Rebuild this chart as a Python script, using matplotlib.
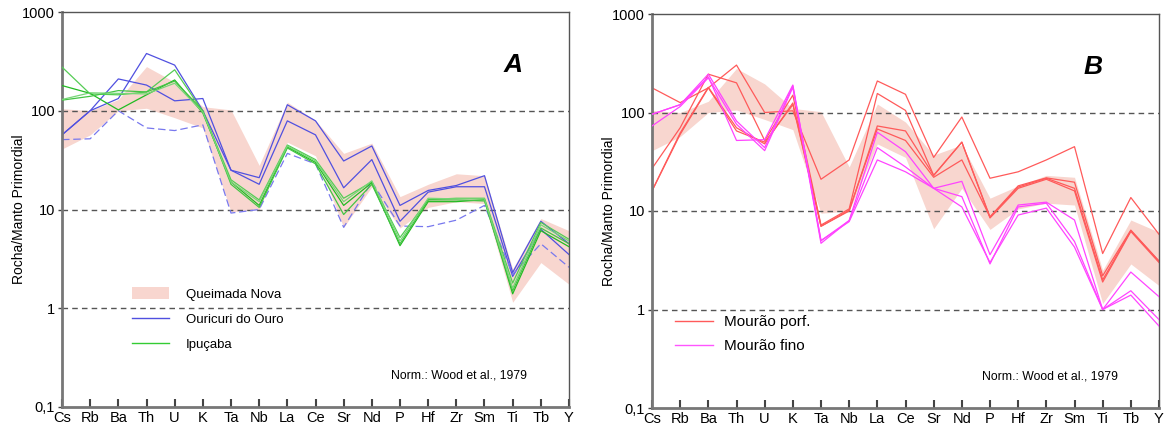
import numpy as np
from matplotlib import pyplot as plt
from matplotlib.patches import Patch
from matplotlib.lines import Line2D

plt.rcParams['font.family'] = ['Liberation Sans', 'DejaVu Sans']

elements = ['Cs', 'Rb', 'Ba', 'Th', 'U', 'K', 'Ta', 'Nb', 'La', 'Ce',
            'Sr', 'Nd', 'P', 'Hf', 'Zr', 'Sm', 'Ti', 'Tb', 'Y']

# Queimada Nova envelope (same field in both panels)
qn_low = [41, 57, 100, 106, 85, 67, 9.5, 10, 48, 35, 6.6, 17, 6.5, 10.5, 12, 11.5, 1.15, 2.9, 1.75]
qn_high = [105, 100, 130, 280, 195, 110, 102, 28, 122, 80, 37, 47, 13.5, 18, 23, 22, 2.5, 8.1, 6.1]

# Ouricuri do Ouro
ouricuri_1 = [57, 100, 133, 380, 290, 100, 25, 18, 79, 57, 16.6, 32, 7.6, 15, 17, 17, 2.1, 6.3, 3.5]
ouricuri_2 = [57, 100, 210, 182, 126, 133, 25, 21, 115, 79, 31, 44, 11, 15.6, 17.5, 22, 2.3, 7.6, 4.5]
ouricuri_3 = [51, 52, 100, 67, 63, 72, 9.2, 10, 37, 29, 6.6, 19, 6.8, 6.7, 7.8, 11, 2.2, 4.5, 2.6]

# Ipuçaba
ipucaba_1 = [277, 148, 145, 155, 260, 98, 20, 12.5, 45, 32, 13, 19, 5.2, 12.6, 13, 13, 1.8, 7.4, 5.0]
ipucaba_2 = [180, 150, 102, 145, 205, 95, 19, 11, 43, 30, 11, 18.7, 4.3, 12, 12, 12.6, 1.4, 6.1, 4.2]
ipucaba_3 = [128, 140, 160, 155, 200, 100, 18, 10.5, 42, 29, 8.9, 18, 4.5, 12.5, 12.5, 12.2, 1.5, 6.5, 4.5]
ipucaba_4 = [130, 152, 150, 148, 190, 97, 19, 12, 44, 31, 12, 19.5, 4.8, 13, 12.8, 12.8, 1.6, 7.0, 4.8]

# Mourão porf.
porf_1 = [178, 126, 178, 303, 100, 104, 21, 33, 209, 153, 35, 90, 21.5, 25, 33, 45, 3.7, 13.7, 5.8]
porf_2 = [27, 70, 245, 200, 52, 150, 7.2, 10.5, 156, 105, 23, 50, 8.7, 18, 21.7, 19.6, 2.2, 6.4, 3.1]
porf_3 = [16, 60, 178, 65, 50, 120, 7.0, 10, 73, 65, 23, 50, 8.5, 17, 21, 16, 1.9, 6.2, 3.0]
porf_4 = [16, 62, 180, 70, 48, 125, 7.0, 10.2, 68, 52, 22, 33, 8.7, 17.5, 21.5, 17, 2.0, 6.3, 3.1]

# Mourão fino
fino_1 = [96, 120, 245, 82, 44, 186, 5.0, 8.0, 63, 40, 17, 20, 3.6, 11.5, 12.3, 8.1, 1.0, 2.4, 1.35]
fino_2 = [73, 115, 225, 76, 41, 180, 4.7, 8.0, 44, 28, 17, 14, 2.9, 11, 12, 4.9, 1.0, 1.55, 0.79]
fino_3 = [96, 120, 230, 52, 53, 190, 5.0, 7.8, 33, 25, 17, 11, 3.0, 9.1, 10.7, 4.3, 1.0, 1.4, 0.68]

ytick_vals = [0.1, 1, 10, 100, 1000]
ytick_labels = ['0,1', '1', '10', '100', '1000']

band_color = '#f8d6cf'
x = np.arange(len(elements))


def style_axes(ax):
    ax.set_yscale('log')
    ax.set_ylim(0.1, 1000)
    ax.set_xlim(0, len(elements) - 1)
    ax.set_yticks(ytick_vals)
    ax.set_yticklabels(ytick_labels)
    ax.minorticks_off()
    ax.set_xticks(x)
    ax.set_xticklabels(elements)
    ax.tick_params(axis='x', direction='in', length=6, width=1.5, color='#444444',
                   labelsize=10.5, pad=3)
    ax.tick_params(axis='y', direction='out', length=3, width=1, color='#444444',
                   labelsize=10.5, pad=2)
    for v in [1, 10, 100]:
        ax.axhline(v, color='#555555', lw=1, ls=(0, (4, 3)), zorder=1)
    for side in ['left', 'bottom']:
        ax.spines[side].set_color('#777777')
        ax.spines[side].set_linewidth(2)
    for side in ['top', 'right']:
        ax.spines[side].set_color('#555555')
        ax.spines[side].set_linewidth(1)
    ax.set_ylabel('Rocha/Manto Primordial', fontsize=10, labelpad=-3)


fig = plt.figure(figsize=(11.65, 4.28), dpi=100)
ax1 = fig.add_axes([62 / 1165, 21 / 428, 507 / 1165, 395 / 428])
ax2 = fig.add_axes([652 / 1165, 20 / 428, 507 / 1165, 394 / 428])

# panel A
ax1.fill_between(x, qn_low, qn_high, color=band_color, lw=0, zorder=0)
for s in [ouricuri_1, ouricuri_2]:
    ax1.plot(x, s, color='#5050e0', lw=0.9, zorder=2)
ax1.plot(x, ouricuri_3, color='#7878ee', lw=0.9, ls=(0, (6, 3)), zorder=2)
for s, c in zip([ipucaba_1, ipucaba_2, ipucaba_3, ipucaba_4],
                ['#55cc55', '#22bb22', '#44c444', '#77d677']):
    ax1.plot(x, s, color=c, lw=0.9, zorder=3)
style_axes(ax1)
ax1.text(0.89, 0.865, 'A', transform=ax1.transAxes, fontsize=19,
         fontweight='bold', fontstyle='italic', ha='center', va='center')
ax1.text(0.783, 0.081, 'Norm.: Wood et al., 1979', transform=ax1.transAxes,
         fontsize=8.8, ha='center', va='center')
handles_a = [Patch(facecolor=band_color, edgecolor='none'),
             Line2D([], [], color='#5050e0', lw=1),
             Line2D([], [], color='#33cc33', lw=1)]
ax1.legend(handles_a, ['Queimada Nova', 'Ouricuri do Ouro', 'Ipuçaba'],
           loc='upper left', bbox_to_anchor=(0.138, 0.303), frameon=False,
           fontsize=9.5, handlelength=2.8, handleheight=1.0, handletextpad=1.3,
           labelspacing=0.9, borderpad=0, borderaxespad=0)

# panel B
ax2.fill_between(x, qn_low, qn_high, color=band_color, lw=0, zorder=0)
for s in [porf_1, porf_2, porf_3, porf_4]:
    ax2.plot(x, s, color='#ff5a5a', lw=0.9, zorder=2)
for s in [fino_1, fino_2, fino_3]:
    ax2.plot(x, s, color='#ff44ff', lw=0.9, zorder=3)
style_axes(ax2)
ax2.text(0.87, 0.865, 'B', transform=ax2.transAxes, fontsize=19,
         fontweight='bold', fontstyle='italic', ha='center', va='center')
ax2.text(0.785, 0.081, 'Norm.: Wood et al., 1979', transform=ax2.transAxes,
         fontsize=8.8, ha='center', va='center')
handles_b = [Line2D([], [], color='#ff5a5a', lw=1),
             Line2D([], [], color='#ff55ff', lw=1)]
ax2.legend(handles_b, ['Mourão porf.', 'Mourão fino'],
           loc='upper left', bbox_to_anchor=(0.045, 0.235), frameon=False,
           fontsize=11, handlelength=2.5, handletextpad=0.7,
           labelspacing=0.65, borderpad=0, borderaxespad=0)

plt.savefig('out.png', dpi=100)
